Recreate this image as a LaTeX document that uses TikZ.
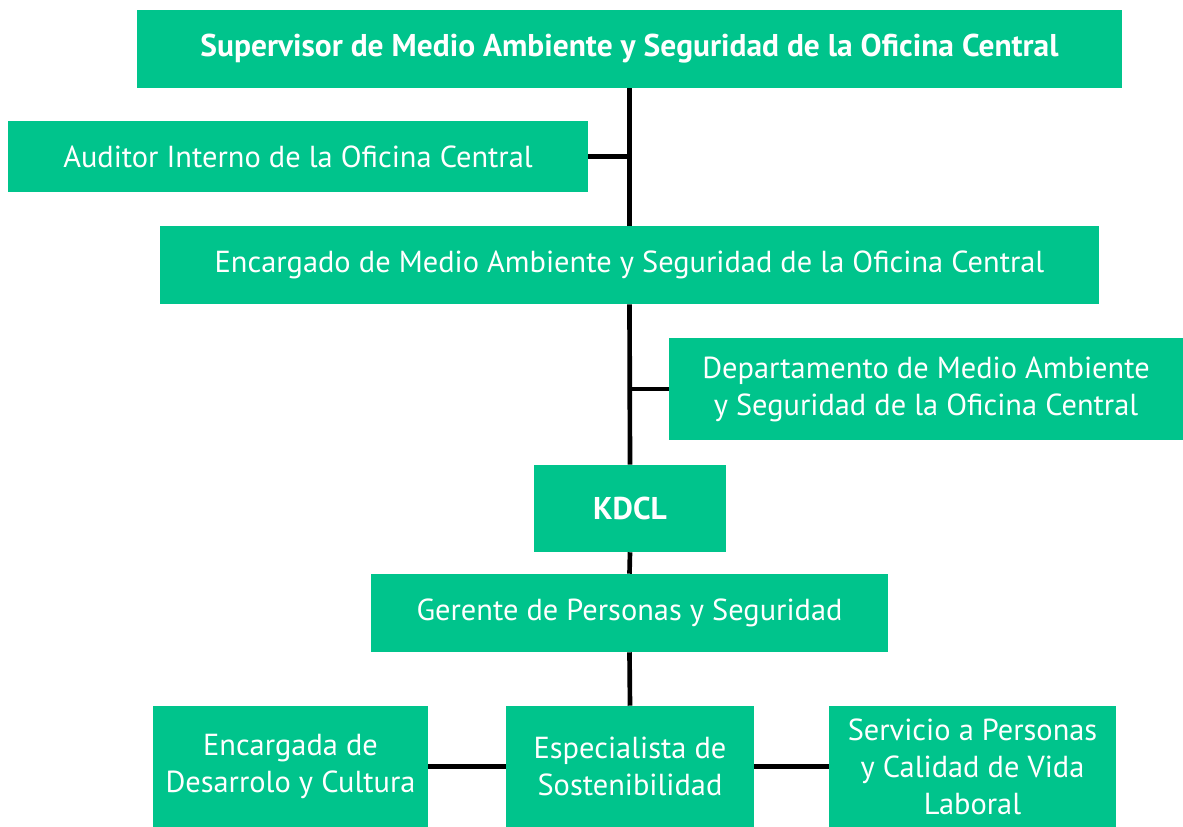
\documentclass[tikz,border=0pt]{standalone}
\usepackage{fontspec}
\setmainfont{PT Sans}
\usepackage{tikz}
\definecolor{verdeorg}{RGB}{0,196,140}
\newcommand{\tronco}{3.5pt}
\tikzstyle{caja}=[fill=verdeorg, text=white, inner sep=0pt, align=center,
  font=\fontsize{22.8}{27.75}\selectfont]
\tikzstyle{cajafuerte}=[caja, font=\fontsize{23.6}{27.75}\selectfont\bfseries]
\tikzstyle{enlace}=[line width=\tronco, black]

\begin{document}
\begin{tikzpicture}[x=0.75pt, y=-0.75pt]
\useasboundingbox (0,0) rectangle (1183,827);

\node[cajafuerte, minimum width=985*0.75pt, minimum height=78*0.75pt] (sup) at (629.5,49) {Supervisor de Medio Ambiente y Seguridad de la Oficina Central};
\node[caja, minimum width=580*0.75pt, minimum height=71*0.75pt] (aud) at (298,156.5) {Auditor Interno de la Oficina Central};
\node[caja, minimum width=939*0.75pt, minimum height=78*0.75pt] (enc) at (629.5,265) {Encargado de Medio Ambiente y Seguridad de la Oficina Central};
\node[caja, minimum width=514*0.75pt, minimum height=102*0.75pt] (dep) at (926,389) {Departamento de Medio Ambiente\\y Seguridad de la Oficina Central};
\node[cajafuerte, minimum width=192*0.75pt, minimum height=87*0.75pt] (kdcl) at (630,508.5) {KDCL};
\node[caja, minimum width=517*0.75pt, minimum height=78*0.75pt] (ger) at (629.5,613) {Gerente de Personas y Seguridad};
\node[caja, minimum width=275*0.75pt, minimum height=121*0.75pt] (desa) at (290.5,766.5) {Encargada de\\Desarrolo y Cultura};
\node[caja, minimum width=248*0.75pt, minimum height=121*0.75pt] (esp) at (630,766.5) {Especialista de\\Sostenibilidad};
\node[caja, minimum width=287*0.75pt, minimum height=121*0.75pt] (serv) at (972.5,766.5) {Servicio a Personas\\y Calidad de Vida\\Laboral};

% tronco vertical
\draw[enlace] (sup.south) -- (enc.north);
\draw[enlace] (enc.south) -- (kdcl.north);
\draw[enlace] (kdcl.south) -- (ger.north);
\draw[enlace] (ger.south) -- (esp.north);

% ramas
\draw[enlace] (aud.east) -- (aud.east -| sup.south);
\draw[enlace] (dep.west) -- (dep.west -| kdcl.north);
\draw[enlace] (desa.east) -- (esp.west);
\draw[enlace] (esp.east) -- (serv.west);

\end{tikzpicture}
\end{document}
